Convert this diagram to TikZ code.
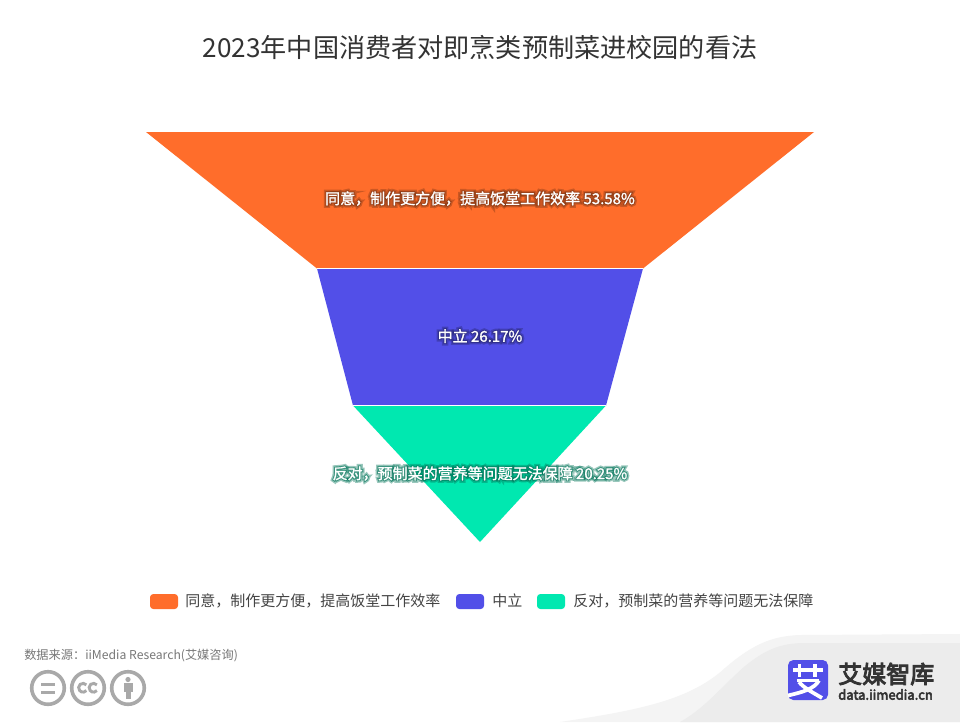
\documentclass[tikz,border=0pt]{standalone}
\usepackage{fontspec}
\setmainfont{Noto Sans CJK SC}
\newfontfamily\halofontA[FakeBold=34]{Noto Sans CJK SC}
\newfontfamily\halofontB[FakeBold=16]{Noto Sans CJK SC}
\newfontfamily\labfont[FakeBold=1.5]{Noto Sans CJK SC}
\newfontfamily\logofont[FakeBold=4]{Noto Sans CJK SC}
\definecolor{cOrange}{HTML}{FF6D2B}
\definecolor{cBlue}{HTML}{524FE8}
\definecolor{cGreen}{HTML}{00E8B0}
\definecolor{cTitle}{HTML}{333333}
\definecolor{cLegend}{HTML}{444444}
\definecolor{cSrc}{HTML}{777777}
\definecolor{cIcon}{HTML}{A9A9A9}
\definecolor{cSwA}{HTML}{F4F4F4}
\definecolor{cSwB}{HTML}{ECECEC}
\definecolor{cLogoTxt}{HTML}{333333}
\newcommand{\halotext}[4]{%
  \node[halo,text=#3!50!black,text opacity=0.4] at (#1,#2) {\halofontA #4};
  \node[halo,text=#3!50!black,text opacity=0.6] at (#1,#2) {\halofontB #4};
  \node[lab] at (#1,#2) {\labfont #4};}
\tikzset{
  x=0.75pt,y=-0.75pt,
  lab/.style={inner sep=0,text=white,font=\fontsize{11.25pt}{13pt}\selectfont},
  halo/.style={inner sep=0,font=\fontsize{11.25pt}{13pt}\selectfont},
  leg/.style={inner sep=0,anchor=west,text=cLegend,font=\fontsize{11.25pt}{13pt}\selectfont},
  swatch/.style={rounded corners=2.5pt,minimum width=0pt},
  seg/.style={draw=white,line width=0.75pt},
  ccicon/.style={draw=cIcon,line width=2.7pt,fill=none},
}
\begin{document}
\begin{tikzpicture}
\useasboundingbox (0,0) rectangle (960,722);
\fill[white] (0,0) rectangle (960,722);
% swoosh
\fill[cSwA] (560,722) .. controls (640,710) and (690,700) .. (725,668) .. controls (755,642) and (775,636) .. (800,635) -- (960,634) -- (960,722) -- cycle;
\fill[cSwB] (680,722) .. controls (705,708) and (720,688) .. (745,666) .. controls (765,650) and (780,643) .. (805,643) -- (960,643) -- (960,722) -- cycle;
% title
\node[inner sep=0,text=cTitle,font=\fontsize{19.6pt}{24pt}\selectfont] (title) at (480,47) {2023年中国消费者对即烹类预制菜进校园的看法};
% funnel
\fill[cOrange] (146,132) -- (814,132) -- (643,268.5) -- (317,268.5) -- cycle;
\fill[cBlue] (317,268.5) -- (643,268.5) -- (606,405.5) -- (353,405.5) -- cycle;
\fill[cGreen] (353,405.5) -- (606,405.5) -- (480,542) -- cycle;
\draw[seg] (317,268.5) -- (643,268.5);
\draw[seg] (353,405.5) -- (606,405.5);
% labels
\halotext{480}{198.5}{cOrange}{同意，制作更方便，提高饭堂工作效率 53.58\%}
\halotext{480}{336}{cBlue}{中立 26.17\%}
\halotext{480}{473.5}{cGreen}{反对，预制菜的营养等问题无法保障 20.25\%}
% legend
\fill[cOrange,swatch] (150,594) rectangle (178,609);
\node[leg] (l1) at (185,601) {同意，制作更方便，提高饭堂工作效率};
\fill[cBlue,swatch] (456,594) rectangle (484,609);
\node[leg] (l2) at (492,601) {中立};
\fill[cGreen,swatch] (537,594) rectangle (565,609);
\node[leg] (l3) at (573,601) {反对，预制菜的营养等问题无法保障};
% source
\node[inner sep=0,anchor=west,text=cSrc,font=\fontsize{9.15pt}{11pt}\selectfont] (src) at (24,656) {数据来源：iiMedia Research(艾媒咨询)};
% cc icons
\draw[ccicon] (48,688) circle (16.3);
\draw[ccicon] (88,688) circle (16.3);
\draw[ccicon] (128,688) circle (16.3);
\fill[cIcon] (41,682.5) rectangle (55,685.5);
\fill[cIcon] (41,690.5) rectangle (55,693.5);
\draw[cIcon,line width=2.2pt] (86.4,684.9) arc (-40:-320:4.4);
\draw[cIcon,line width=2.2pt] (96.9,684.9) arc (-40:-320:4.4);
\fill[cIcon] (128,679.5) circle (2.6);
\fill[cIcon] (123.5,683) rectangle (132.5,692);
\fill[cIcon] (125.5,692) rectangle (130.5,699);
% logo
\fill[cBlue,rounded corners=4pt] (788,660) rectangle (828,700);
\draw[white,line width=2.6pt] (793,670) -- (823,670);
\draw[white,line width=2.6pt] (799.5,664) -- (799.5,677);
\draw[white,line width=2.6pt] (815,664) -- (815,677);
\draw[white,line width=2.6pt] (797,680.5) -- (819,680.5);
\draw[white,line width=2.8pt] (819,680.5) .. controls (814,689) and (803,692) .. (788,695.5);
\draw[white,line width=2.8pt] (799,682) .. controls (804,688) and (812,692) .. (822,698);
\node[inner sep=0,anchor=west,text=cLogoTxt,font=\fontsize{18pt}{20pt}\logofont] (brand) at (838,674) {艾媒智库};
\node[inner sep=0,anchor=west,text=cLogoTxt,font=\fontsize{9.8pt}{12pt}\logofont] (site) at (838,694.5) {data.iimedia.cn};
\end{tikzpicture}
\end{document}
